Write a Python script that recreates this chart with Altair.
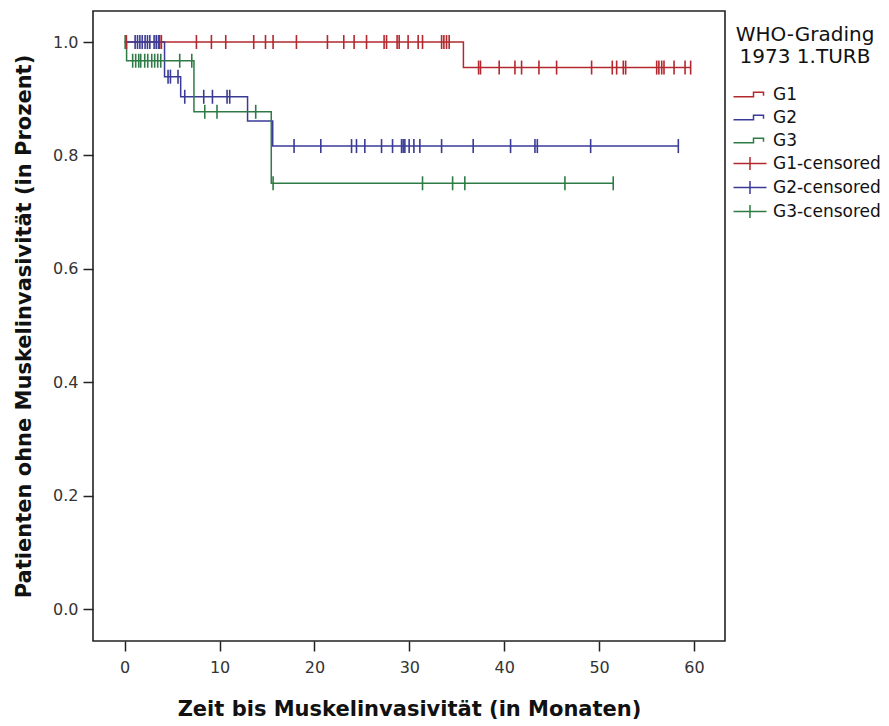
import altair as alt
import pandas as pd

# ---------------- data ----------------
groups = ["G1", "G2", "G3"]
colors = ["#B3282E", "#3A3B96", "#2E7B46"]

# step events: time (months) and survival after the step
g1_event_t = [35.7]
g1_event_s = [0.955]
g2_event_t = [4.2, 5.9, 12.95, 15.6]
g2_event_s = [0.939, 0.9035, 0.861, 0.8166]
g3_event_t = [0.2, 7.3, 15.45]
g3_event_s = [0.967, 0.877, 0.751]

# censored times (months)
g1_cens = [0.18, 3.34, 3.69, 3.87, 7.56, 9.14, 10.65, 13.6, 14.84, 15.64, 18.1,
           21.37, 23.09, 24.18, 25.49, 27.34, 27.6, 28.71, 28.93, 29.87, 30.93,
           31.39, 33.4, 33.64, 33.92, 34.2,
           37.3, 37.5, 39.47, 41.13, 41.83, 43.66, 45.52, 49.21, 51.39, 51.85,
           52.55, 52.8, 56.07, 56.3, 56.6, 56.84, 57.9, 59.06, 59.65]
g2_cens = [1.1, 1.35, 1.6, 1.85, 2.15, 2.4, 2.65, 3.1, 3.35, 3.6,
           4.57, 4.82, 5.62,
           6.33, 8.33, 9.25, 10.79, 11.07,
           17.85, 20.67, 23.91, 24.43, 25.31, 27.07, 28.23, 29.18, 29.35, 29.53,
           29.98, 30.48, 31.11, 33.4, 36.73, 40.67, 43.24, 43.49, 49.11, 58.35]
g3_cens = [0.05, 0.84, 1.16, 1.48, 1.69, 2.11, 2.43, 2.85, 3.16, 3.48, 3.8, 5.8, 7.07,
           8.44, 9.73, 13.81,
           15.64, 31.39, 34.56, 35.85, 46.4, 51.49]

legend_labels = ["G1", "G2", "G3", "G1-censored", "G2-censored", "G3-censored"]
x_ticks = [0, 10, 20, 30, 40, 50, 60]
y_ticks = [0.0, 0.2, 0.4, 0.6, 0.8, 1.0]

# ---------------- build tables ----------------
events = {"G1": (g1_event_t, g1_event_s), "G2": (g2_event_t, g2_event_s), "G3": (g3_event_t, g3_event_s)}
cens = {"G1": g1_cens, "G2": g2_cens, "G3": g3_cens}
col = dict(zip(groups, colors))


def surv_at(g, t):
    s = 1.0
    for et, es in zip(*events[g]):
        if t >= et:
            s = es
    return s


line_rows, cens_rows = [], []
for g in groups:
    et, es = events[g]
    end_t = max(cens[g])
    pts = [(0.0, 1.0)] + list(zip(et, es)) + [(end_t, es[-1])]
    for t, s in pts:
        line_rows.append({"group": g, "t": t, "s": s, "color": col[g]})
    for t in cens[g]:
        cens_rows.append({"group": g, "t": t, "s": surv_at(g, t), "color": col[g]})

df_lines = pd.DataFrame(line_rows)
df_cens = pd.DataFrame(cens_rows)
df_leg = pd.DataFrame({"label": legend_labels})

step_path = "M-1,0.45L3.0,0.45L3.0,-0.45L5,-0.45L5,0.25"
plus_path = "M-1,0L5.6,0M2.3,-1.3L2.3,1.3"
leg_shapes = [step_path] * 3 + [plus_path] * 3
leg_colors = colors + colors

x_scale = alt.Scale(domain=[-3.34, 63.27], nice=False, zero=False)
y_scale = alt.Scale(domain=[-0.0559, 1.0547], nice=False, zero=False)

axis_common = dict(grid=False, domain=False, tickWidth=1.5, tickColor="#222",
                   labelFont="DejaVu Sans", labelFontSize=16, labelColor="#333",
                   titleFont="DejaVu Sans", titleFontSize=21, titleFontWeight="bold",
                   titleColor="#111", tickSize=10)

x_axis = alt.Axis(title="Zeit bis Muskelinvasivität (in Monaten)", values=x_ticks,
                  format="d", labelPadding=8, titlePadding=23, **axis_common)
y_axis = alt.Axis(title="Patienten ohne Muskelinvasivität (in Prozent)", values=y_ticks,
                  format=".1f", labelPadding=5, titlePadding=18, **axis_common)

lines = alt.Chart(df_lines).mark_line(interpolate="step-after", strokeWidth=1.5).encode(
    x=alt.X("t:Q", scale=x_scale, axis=x_axis),
    y=alt.Y("s:Q", scale=y_scale, axis=y_axis),
    color=alt.Color("color:N", scale=None),
    detail="group:N",
)

ticks = alt.Chart(df_cens).mark_point(shape="M0,-1L0,1", size=196, filled=False,
                                      strokeWidth=1.6, opacity=1).encode(
    x=alt.X("t:Q", scale=x_scale),
    y=alt.Y("s:Q", scale=y_scale),
    color=alt.Color("color:N", scale=None),
)

leg_title = ["WHO-Grading", "1973 1.TURB"]
legend = alt.Legend(title=leg_title, orient="none", legendX=637, legendY=14,
                    symbolSize=100, symbolStrokeWidth=1.5, symbolOpacity=1,
                    symbolFillColor="transparent",
                    labelFont="DejaVu Sans", labelFontSize=17, labelColor="#111",
                    labelOffset=26, rowPadding=5.0,
                    titleFont="DejaVu Sans", titleFontSize=20, titleFontWeight="normal",
                    titleColor="#111", titleAlign="center", titleAnchor="middle",
                    titleLineHeight=22, titlePadding=19)

leg_layer = alt.Chart(df_leg).mark_point(filled=False, opacity=0).encode(
    x=alt.value(0), y=alt.value(0),
    color=alt.Color("label:N", scale=alt.Scale(domain=legend_labels, range=leg_colors),
                    legend=legend),
    shape=alt.Shape("label:N", scale=alt.Scale(domain=legend_labels, range=leg_shapes),
                    legend=legend),
)

chart = alt.layer(lines, ticks, leg_layer).properties(
    width=632, height=630,
    background="white",
    autosize=alt.AutoSizeParams(type="none"),
    padding={"left": 93, "top": 11, "right": 164, "bottom": 85},
).configure_view(stroke="#222", strokeWidth=1.6)

chart.save("out.html", embed_options={"renderer": "svg", "actions": False})
